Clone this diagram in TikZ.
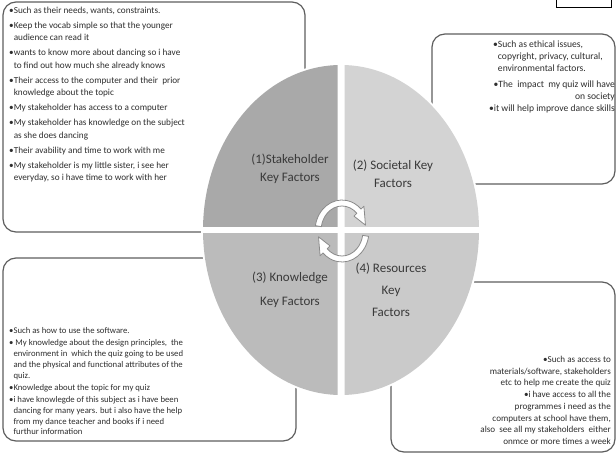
\documentclass[tikz,border=0pt]{standalone}
\usepackage{fontspec}
\setmainfont{Carlito}
\usetikzlibrary{calc}
\definecolor{qone}{HTML}{A9A9A9}
\definecolor{qtwo}{HTML}{D3D3D3}
\definecolor{qthree}{HTML}{BBBBBB}
\definecolor{qfour}{HTML}{CACACA}
\definecolor{boxgray}{HTML}{5E5E5E}
\definecolor{txtgray}{HTML}{2E2E2E}
\definecolor{labgray}{HTML}{3A3A3A}
\definecolor{arrgray}{HTML}{8A8A8A}
\newcommand{\mybul}{•}
\newcommand{\myind}{\phantom{•}}
\begin{document}
\begin{tikzpicture}[x=1pt,y=-1pt,
  boxline/.style={draw=boxgray, line width=1.2pt, rounded corners=13pt},
  txt/.style={inner sep=0pt, text=txtgray, font=\fontsize{9.2}{12.4}\selectfont},
  lab/.style={inner sep=0pt, text=labgray, align=center, font=\fontsize{13}{18}\selectfont},
  cyc/.style={draw=arrgray, fill=white, line width=0.8pt, line join=round}]
\useasboundingbox (0,0) rectangle (616,458);
\fill[white] (0,0) rectangle (616,458);
% small box top right
\draw[black, line width=0.9pt] (556,-2) rectangle (611,7);
% four boxes
\draw[boxline] (3,2) rectangle (305,232);
\draw[boxline] (432,34) rectangle (615,184);
\draw[boxline] (3,258) rectangle (296,441);
\draw[boxline] (391,282) rectangle (615,452);
% the circle
\coordinate (c) at (341,230);
\fill[white] (c) ellipse [x radius=140, y radius=167];
\begin{scope}\clip (0,0) rectangle (337.5,226.5);
  \fill[qone] (c) ellipse [x radius=138, y radius=165];\end{scope}
\begin{scope}\clip (344.5,0) rectangle (616,226.5);
  \fill[qtwo] (c) ellipse [x radius=138, y radius=165];\end{scope}
\begin{scope}\clip (0,233.5) rectangle (337.5,458);
  \fill[qthree] (c) ellipse [x radius=138, y radius=165];\end{scope}
\begin{scope}\clip (344.5,233.5) rectangle (616,458);
  \fill[qfour] (c) ellipse [x radius=138, y radius=165];\end{scope}
% cycle arrows
\coordinate (ca) at (342,231);
\draw[cyc] ($(ca)+(-170:27 and 31)$) arc[start angle=-170, end angle=-45, x radius=27, y radius=31]
  -- ($(ca)+(-45:31 and 35)$) -- ($(ca)+(-12:24 and 28)$) -- ($(ca)+(-45:17 and 21)$)
  -- ($(ca)+(-45:21 and 25)$) arc[start angle=-45, end angle=-170, x radius=21, y radius=25] -- cycle;
\draw[cyc] ($(ca)+(10:27 and 31)$) arc[start angle=10, end angle=135, x radius=27, y radius=31]
  -- ($(ca)+(135:31 and 35)$) -- ($(ca)+(168:24 and 28)$) -- ($(ca)+(135:17 and 21)$)
  -- ($(ca)+(135:21 and 25)$) arc[start angle=135, end angle=10, x radius=21, y radius=25] -- cycle;
% labels
\node[lab] (l1) at (290,169) {(1)Stakeholder\\Key Factors};
\node[lab] (l2) at (393,174) {(2) Societal Key\\Factors};
\node[lab, font=\fontsize{13}{24}\selectfont] (l3) at (290,290) {(3) Knowledge\\Key Factors};
\node[lab, font=\fontsize{13}{22}\selectfont] (l4) at (391,290) {(4) Resources\\Key\\Factors};
% texts
\node[txt, anchor=north west, align=left] (t1) at (9,7) {%
\mybul Such as their needs, wants, constraints.\\[2.6pt]
\mybul Keep the vocab simple so that the younger\\
\myind audience can read it\\[2.6pt]
\mybul wants to know more about dancing so i have\\
\myind to find out how much she already knows\\[2.6pt]
\mybul Their access to the computer and their~ prior\\
\myind knowledge about the topic\\[2.6pt]
\mybul My stakeholder has access to a computer\\[2.6pt]
\mybul My stakeholder has knowledge on the subject\\
\myind as she does dancing\\[2.6pt]
\mybul Their avability and time to work with me\\[2.6pt]
\mybul My stakeholder is my little sister, i see her\\
\myind everyday, so i have time to work with her};
\node[txt, anchor=north west, align=left, font=\fontsize{9.6}{11.8}\selectfont] (t2a) at (493,41) {%
\mybul Such as ethical issues,\\
\myind copyright, privacy, cultural,\\
\myind environmental factors.};
\node[txt, anchor=north east, align=right, font=\fontsize{9.6}{11.8}\selectfont] (t2b) at (615,81) {%
\mybul The~ impact~ my quiz will have\\
on society};
\node[txt, anchor=north east, align=right, font=\fontsize{9.6}{11.8}\selectfont] (t2c) at (615,105) {%
\mybul it will help improve dance skills};
\node[txt, anchor=north west, align=left, font=\fontsize{8.7}{10.9}\selectfont] (t3) at (9,327) {%
\mybul Such as how to use the software.\\[1.2pt]
\mybul\ My knowledge about the design principles,~ the\\
\myind environment in~ which the quiz going to be used\\
\myind and the physical and functional attributes of the\\
\myind quiz.\\[1.2pt]
\mybul Knowledge about the topic for my quiz\\[1.2pt]
\mybul i have knowlegde of this subject as i have been\\
\myind dancing for many years. but i also have the help\\
\myind from my dance teacher and books if i need\\
\myind furthur information};
\node[txt, anchor=north east, align=right, font=\fontsize{9.1}{11.7}\selectfont] (t4) at (611,356) {%
\mybul Such as access to\\
materials/software, stakeholders\\
etc to help me create the quiz\\
\mybul i have access to all the\\
programmes i need as the\\
computers at school have them,\\
also~ see all my stakeholders~ either\\
onmce or more times a week};
\end{tikzpicture}
\end{document}
